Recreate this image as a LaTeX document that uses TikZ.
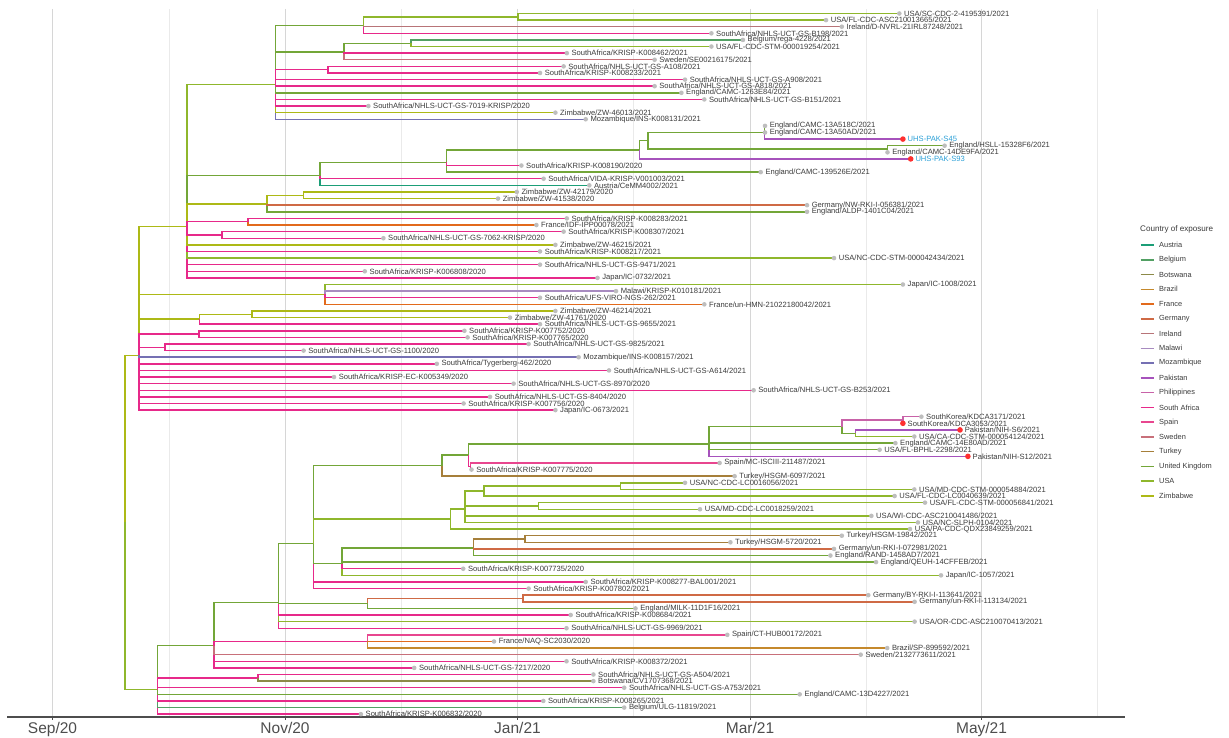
\documentclass[tikz,border=0pt]{standalone}
\usepackage{fontspec}
\setmainfont{Liberation Sans}
\definecolor{AustriaClr}{HTML}{1B9E77}
\definecolor{BelgiumClr}{HTML}{52A063}
\definecolor{BotswanaClr}{HTML}{8C8A48}
\definecolor{BrazilClr}{HTML}{C5892C}
\definecolor{FranceClr}{HTML}{E26A1C}
\definecolor{GermanyClr}{HTML}{CF6A45}
\definecolor{IrelandClr}{HTML}{B87478}
\definecolor{MalawiClr}{HTML}{A88BC0}
\definecolor{MozambiqueClr}{HTML}{7570B3}
\definecolor{PakistanClr}{HTML}{A652BC}
\definecolor{PhilippinesClr}{HTML}{C862A8}
\definecolor{SouthAfricaClr}{HTML}{E7298A}
\definecolor{SpainClr}{HTML}{E8468F}
\definecolor{SwedenClr}{HTML}{C8707A}
\definecolor{TurkeyClr}{HTML}{A67F3A}
\definecolor{UKClr}{HTML}{73A638}
\definecolor{USAClr}{HTML}{8FB72C}
\definecolor{ZimbabweClr}{HTML}{ADB916}
\definecolor{LabelClr}{HTML}{3A3A3A}
\definecolor{BlueLabelClr}{HTML}{2A9FD6}
\definecolor{DotClr}{HTML}{BEBEBE}
\definecolor{HitClr}{HTML}{FF3030}
\definecolor{GridClr}{HTML}{D6D6D6}
\definecolor{MinorClr}{HTML}{EAEAEA}
\definecolor{AxisClr}{HTML}{4D4D4D}

\begin{document}
\begin{tikzpicture}[x=1pt,y=-1pt,
  br/.style={line width=1.45pt},
  tiplab/.style={anchor=west,inner sep=0pt,xshift=4.6pt,text=LabelClr,font=\fontsize{7.6}{8}\selectfont},
  paklab/.style={tiplab,text=BlueLabelClr},
  axlab/.style={anchor=base,inner sep=0pt,text=AxisClr,font=\fontsize{15.5}{16}\selectfont},
  keylab/.style={anchor=west,inner sep=0pt,text=LabelClr,font=\fontsize{7.4}{8}\selectfont}]
\useasboundingbox (0,0) rectangle (1229,738);

% grid
\foreach \gx in {169,401,633.5,866,1097.5}
  \draw[MinorClr,line width=0.6pt] (\gx,9) -- (\gx,717);
\foreach \gx in {52.5,285,517.5,750,981.5}
  \draw[GridClr,line width=0.9pt] (\gx,9) -- (\gx,717);

% time axis
\draw[AxisClr,line width=1.1pt] (7,717) -- (1125,717);
\foreach \gx in {52.5,285,517.5,750,981.5}
  \draw[AxisClr,line width=0.9pt] (\gx,717) -- (\gx,720);
\node[axlab] (lsep) at (52.5,733) {Sep/20};
\node[axlab] (lnov) at (285,733) {Nov/20};
\node[axlab] (ljan) at (517.5,733) {Jan/21};
\node[axlab] (lmar) at (750,733) {Mar/21};
\node[axlab] (lmay) at (981.5,733) {May/21};

\begin{scope}[yshift=-6.89pt,y=-6.61pt]
% inner nodes
\coordinate (root) at (125,78.0);
\coordinate (B) at (139,52.71);
\coordinate (D) at (187,33.19);
\coordinate (T) at (275.5,11.72);
\coordinate (T1) at (363.6,2.833);
\coordinate (T1a) at (517.8,1.5);
\coordinate (T2) at (344,6.833);
\coordinate (T2a) at (411,5.5);
\coordinate (T3) at (328,9.5);
\coordinate (E1) at (320,25.51);
\coordinate (E2) at (446.6,23.54);
\coordinate (E3) at (639.3,21.625);
\coordinate (E4) at (648.2,20.25);
\coordinate (E5) at (764.3,19);
\coordinate (E6) at (887.5,21.5);
\coordinate (Z) at (266.8,29.83);
\coordinate (Z1) at (303.5,28.5);
\coordinate (F1) at (248,32.5);
\coordinate (F2) at (222,34.5);
\coordinate (J) at (325,43.5);
\coordinate (F) at (199.6,47.25);
\coordinate (Fa) at (252,46.5);
\coordinate (G) at (198.8,49.5);
\coordinate (H) at (164.8,51.5);
\coordinate (C) at (157.3,103.3);
\coordinate (C2) at (258,101.5);
\coordinate (K) at (214.2,96.62);
\coordinate (K2) at (367.6,96);
\coordinate (L) at (278.7,90.09);
\coordinate (L2) at (367.6,90.25);
\coordinate (L3) at (523,89.5);
\coordinate (M) at (313.4,81.22);
\coordinate (N1) at (441.9,69.41);
\coordinate (N2) at (468.4,67.81);
\coordinate (N2b) at (470.5,69.5);
\coordinate (P1) at (709,66.125);
\coordinate (P2) at (841.8,63.5);
\coordinate (P3) at (902.9,62.5);
\coordinate (P4) at (855.4,64.5);
\coordinate (Q1) at (450.6,77.47);
\coordinate (Q2) at (465.2,75.94);
\coordinate (Q3) at (484.2,73.25);
\coordinate (Q4) at (620.7,72.5);
\coordinate (Q5) at (538.3,75.5);
\coordinate (R1) at (341.9,84.21);
\coordinate (R2) at (473.5,81.83);
\coordinate (R3) at (524.9,80.5);

% tips
\coordinate (t1) at (899.3,1);
\coordinate (t2) at (826,2);
\coordinate (t3) at (841.8,3);
\coordinate (t4) at (711.4,4);
\coordinate (t5) at (742.9,5);
\coordinate (t6) at (711.4,6);
\coordinate (t7) at (566.8,7);
\coordinate (t8) at (654.6,8);
\coordinate (t9) at (563.6,9);
\coordinate (t10) at (540,10);
\coordinate (t11) at (685,11);
\coordinate (t12) at (654.6,12);
\coordinate (t13) at (681.4,13);
\coordinate (t14) at (704.3,14);
\coordinate (t15) at (368.4,15);
\coordinate (t16) at (555.4,16);
\coordinate (t17) at (585.7,17);
\coordinate (t18) at (765,18);
\coordinate (t19) at (765,19);
\coordinate (t20) at (902.9,20);
\coordinate (t21) at (944.6,21);
\coordinate (t22) at (887.5,22);
\coordinate (t23) at (910.7,23);
\coordinate (t24) at (521.4,24);
\coordinate (t25) at (760.7,25);
\coordinate (t26) at (543.6,26);
\coordinate (t27) at (589.3,27);
\coordinate (t28) at (516.8,28);
\coordinate (t29) at (498,29);
\coordinate (t30) at (807,30);
\coordinate (t31) at (807,31);
\coordinate (t32) at (566.8,32);
\coordinate (t33) at (536.4,33);
\coordinate (t34) at (563.6,34);
\coordinate (t35) at (383.4,35);
\coordinate (t36) at (555.4,36);
\coordinate (t37) at (540,37);
\coordinate (t38) at (834,38);
\coordinate (t39) at (540,39);
\coordinate (t40) at (364.8,40);
\coordinate (t41) at (597.5,41);
\coordinate (t42) at (902.9,42);
\coordinate (t43) at (616,43);
\coordinate (t44) at (540,44);
\coordinate (t45) at (704.3,45);
\coordinate (t46) at (555.4,46);
\coordinate (t47) at (510,47);
\coordinate (t48) at (540,48);
\coordinate (t49) at (464.4,49);
\coordinate (t50) at (467.6,50);
\coordinate (t51) at (528.6,51);
\coordinate (t52) at (303.6,52);
\coordinate (t53) at (578.6,53);
\coordinate (t54) at (436.8,54);
\coordinate (t55) at (609,55);
\coordinate (t56) at (334,56);
\coordinate (t57) at (513.6,57);
\coordinate (t58) at (753.6,58);
\coordinate (t59) at (490,59);
\coordinate (t60) at (463.6,60);
\coordinate (t61) at (555.4,61);
\coordinate (t62) at (921.4,62);
\coordinate (t63) at (902.9,63);
\coordinate (t64) at (960,64);
\coordinate (t65) at (914.3,65);
\coordinate (t66) at (895.4,66);
\coordinate (t67) at (879.6,67);
\coordinate (t68) at (967.9,68);
\coordinate (t69) at (719.6,69);
\coordinate (t70) at (471.5,70);
\coordinate (t71) at (734.6,71);
\coordinate (t72) at (685,72);
\coordinate (t73) at (914.3,73);
\coordinate (t74) at (894.6,74);
\coordinate (t75) at (925,75);
\coordinate (t76) at (700,76);
\coordinate (t77) at (871.4,77);
\coordinate (t78) at (917.9,78);
\coordinate (t79) at (910,79);
\coordinate (t80) at (841.8,80);
\coordinate (t81) at (730.4,81);
\coordinate (t82) at (834,82);
\coordinate (t83) at (830.4,83);
\coordinate (t84) at (876,84);
\coordinate (t85) at (463.2,85);
\coordinate (t86) at (941,86);
\coordinate (t87) at (585.7,87);
\coordinate (t88) at (528.6,88);
\coordinate (t89) at (868.3,89);
\coordinate (t90) at (914.6,90);
\coordinate (t91) at (635.5,91);
\coordinate (t92) at (570.7,92);
\coordinate (t93) at (914.6,93);
\coordinate (t94) at (566.5,94);
\coordinate (t95) at (727.3,95);
\coordinate (t96) at (494,96);
\coordinate (t97) at (887.2,97);
\coordinate (t98) at (860.7,98);
\coordinate (t99) at (566.5,99);
\coordinate (t100) at (414.2,100);
\coordinate (t101) at (593.4,101);
\coordinate (t102) at (593.4,102);
\coordinate (t103) at (624.2,103);
\coordinate (t104) at (799.7,104);
\coordinate (t105) at (543.3,105);
\coordinate (t106) at (624.2,106);
\coordinate (t107) at (360.9,107);

% branches, upper clade
\draw[br,ZimbabweClr] (root) |- (B);
\draw[br,USAClr] (root) |- (C);
\draw[br,ZimbabweClr] (B) |- (D) (B) |- (J);
\draw[br,SouthAfricaClr] (B) |- (t61) (B) |- (t60) (B) |- (t59);
\draw[br,ZimbabweClr] (B) |- (F);
\draw[br,SouthAfricaClr] (B) |- (t58) (B) |- (t57) (B) |- (t56) (B) |- (G) (B) |- (t55) (B) |- (t54) (B) |- (H);
\draw[br,MozambiqueClr] (B) |- (t53);
\draw[br,USAClr] (D) |- (T);
\draw[br,SouthAfricaClr] (D) |- (t41);
\draw[br,UKClr] (D) |- (E1);
\draw[br,SouthAfricaClr] (D) |- (t40) (D) |- (t39);
\draw[br,USAClr] (D) |- (t38);
\draw[br,SouthAfricaClr] (D) |- (t37);
\draw[br,ZimbabweClr] (D) |- (Z) (D) |- (t36);
\draw[br,SouthAfricaClr] (D) |- (F2) (D) |- (F1);
\draw[br,UKClr] (T) |- (T1);
\draw[br,MozambiqueClr] (T) |- (t17);
\draw[br,UKClr] (T) |- (T2);
\draw[br,ZimbabweClr] (T) |- (t16);
\draw[br,SouthAfricaClr] (T) |- (t15) (T) |- (t14) (T) |- (T3);
\draw[br,UKClr] (T) |- (t13);
\draw[br,SouthAfricaClr] (T) |- (t11) (T) |- (t12);
\draw[br,USAClr] (T1) |- (T1a);
\draw[br,SouthAfricaClr] (T1) |- (t4);
\draw[br,IrelandClr] (T1) |- (t3);
\draw[br,USAClr] (T1a) |- (t1) (T1a) |- (t2);
\draw[br,UKClr] (T2) |- (T2a);
\draw[br,SwedenClr] (T2) |- (t8);
\draw[br,SouthAfricaClr] (T2) |- (t7);
\draw[br,BelgiumClr] (T2a) |- (t5);
\draw[br,USAClr] (T2a) |- (t6);
\draw[br,SouthAfricaClr] (T3) |- (t9) (T3) |- (t10);
\draw[br,UKClr] (E1) |- (E2);
\draw[br,AustriaClr] (E1) |- (t27);
\draw[br,SouthAfricaClr] (E1) |- (t26);
\draw[br,UKClr] (E2) |- (E3) (E2) |- (t25);
\draw[br,SouthAfricaClr] (E2) |- (t24);
\draw[br,PakistanClr] (E3) |- (t23);
\draw[br,UKClr] (E3) |- (E4);
\draw[br,UKClr] (E4) |- (E5) (E4) |- (E6);
\draw[br,UKClr] (E5) |- (t18);
\draw[br,PakistanClr] (E5) |- (t20);
\draw[br,UKClr] (E5) |- (t19);
\draw[br,UKClr] (E6) |- (t21) (E6) |- (t22);
\draw[br,ZimbabweClr] (Z) |- (Z1);
\draw[br,UKClr] (Z) |- (t31);
\draw[br,GermanyClr] (Z) |- (t30);
\draw[br,ZimbabweClr] (Z1) |- (t28) (Z1) |- (t29);
\draw[br,SouthAfricaClr] (F1) |- (t32);
\draw[br,FranceClr] (F1) |- (t33);
\draw[br,SouthAfricaClr] (F2) |- (t34) (F2) |- (t35);
\draw[br,USAClr] (J) |- (t42);
\draw[br,FranceClr] (J) |- (t45);
\draw[br,MalawiClr] (J) |- (t43);
\draw[br,SouthAfricaClr] (J) |- (t44);
\draw[br,ZimbabweClr] (F) |- (Fa);
\draw[br,SouthAfricaClr] (F) |- (t48);
\draw[br,ZimbabweClr] (Fa) |- (t46) (Fa) |- (t47);
\draw[br,SouthAfricaClr] (G) |- (t49) (G) |- (t50);
\draw[br,SouthAfricaClr] (H) |- (t51) (H) |- (t52);

% branches, lower clade
\draw[br,UKClr] (C) |- (K);
\draw[br,SouthAfricaClr] (C) |- (t107);
\draw[br,BelgiumClr] (C) |- (t106);
\draw[br,SouthAfricaClr] (C) |- (C2) (C) |- (t105);
\draw[br,UKClr] (C) |- (t104);
\draw[br,SouthAfricaClr] (C) |- (t103);
\draw[br,SouthAfricaClr] (C2) |- (t101);
\draw[br,BotswanaClr] (C2) |- (t102);
\draw[br,UKClr] (K) |- (L);
\draw[br,SouthAfricaClr] (K) |- (t100) (K) |- (t99);
\draw[br,SwedenClr] (K) |- (t98);
\draw[br,SouthAfricaClr] (K) |- (K2);
\draw[br,SpainClr] (K2) |- (t95);
\draw[br,BrazilClr] (K2) |- (t97);
\draw[br,FranceClr] (K2) |- (t96);
\draw[br,UKClr] (L) |- (M);
\draw[br,SouthAfricaClr] (L) |- (t94);
\draw[br,USAClr] (L) |- (t93);
\draw[br,SouthAfricaClr] (L) |- (t92);
\draw[br,UKClr] (L) |- (L2);
\draw[br,UKClr] (L2) |- (t91);
\draw[br,GermanyClr] (L2) |- (L3);
\draw[br,GermanyClr] (L3) |- (t89) (L3) |- (t90);
\draw[br,UKClr] (M) |- (N1);
\draw[br,SouthAfricaClr] (M) |- (t88) (M) |- (t87);
\draw[br,USAClr] (M) |- (Q1);
\draw[br,UKClr] (M) |- (R1);
\draw[br,TurkeyClr] (N1) |- (t71);
\draw[br,UKClr] (N1) |- (N2);
\draw[br,SouthAfricaClr] (N2) |- (N2b);
\draw[br,UKClr] (N2) |- (P1);
\draw[br,SpainClr] (N2b) |- (t69);
\draw[br,SouthAfricaClr] (N2b) |- (t70);
\draw[br,UKClr] (P1) |- (P2);
\draw[br,PakistanClr] (P1) |- (t68);
\draw[br,UKClr] (P1) |- (t67) (P1) |- (t66);
\draw[br,PhilippinesClr] (P2) |- (P3);
\draw[br,UKClr] (P2) |- (P4);
\draw[br,PhilippinesClr] (P3) |- (t62) (P3) |- (t63);
\draw[br,PakistanClr] (P4) |- (t64);
\draw[br,USAClr] (P4) |- (t65);
\draw[br,USAClr] (Q1) |- (Q2) (Q1) |- (t79);
\draw[br,USAClr] (Q2) |- (Q3) (Q2) |- (Q5) (Q2) |- (t77) (Q2) |- (t78);
\draw[br,USAClr] (Q3) |- (Q4) (Q3) |- (t74);
\draw[br,USAClr] (Q4) |- (t72) (Q4) |- (t73);
\draw[br,USAClr] (Q5) |- (t75) (Q5) |- (t76);
\draw[br,UKClr] (R1) |- (R2);
\draw[br,USAClr] (R1) |- (t86);
\draw[br,SouthAfricaClr] (R1) |- (t85);
\draw[br,UKClr] (R1) |- (t84);
\draw[br,TurkeyClr] (R2) |- (R3);
\draw[br,UKClr] (R2) |- (t83);
\draw[br,GermanyClr] (R2) |- (t82);
\draw[br,TurkeyClr] (R3) |- (t80) (R3) |- (t81);

% tip points
\foreach \i in {1,...,107} \fill[DotClr] (t\i) circle (2.3pt);
\foreach \i in {20,23,63,64,68} \fill[HitClr] (t\i) circle (2.8pt);

% tip labels
\node[tiplab] (l1) at (t1) {USA/SC-CDC-2-4195391/2021};
\node[tiplab] (l2) at (t2) {USA/FL-CDC-ASC210013665/2021};
\node[tiplab] (l3) at (t3) {Ireland/D-NVRL-21IRL87248/2021};
\node[tiplab] (l4) at (t4) {SouthAfrica/NHLS-UCT-GS-B198/2021};
\node[tiplab] (l5) at (t5) {Belgium/rega-4228/2021};
\node[tiplab] (l6) at (t6) {USA/FL-CDC-STM-000019254/2021};
\node[tiplab] (l7) at (t7) {SouthAfrica/KRISP-K008462/2021};
\node[tiplab] (l8) at (t8) {Sweden/SE00216175/2021};
\node[tiplab] (l9) at (t9) {SouthAfrica/NHLS-UCT-GS-A108/2021};
\node[tiplab] (l10) at (t10) {SouthAfrica/KRISP-K008233/2021};
\node[tiplab] (l11) at (t11) {SouthAfrica/NHLS-UCT-GS-A908/2021};
\node[tiplab] (l12) at (t12) {SouthAfrica/NHLS-UCT-GS-A818/2021};
\node[tiplab] (l13) at (t13) {England/CAMC-1263E84/2021};
\node[tiplab] (l14) at (t14) {SouthAfrica/NHLS-UCT-GS-B151/2021};
\node[tiplab] (l15) at (t15) {SouthAfrica/NHLS-UCT-GS-7019-KRISP/2020};
\node[tiplab] (l16) at (t16) {Zimbabwe/ZW-46013/2021};
\node[tiplab] (l17) at (t17) {Mozambique/INS-K008131/2021};
\node[tiplab] (l18) at (t18) {England/CAMC-13A518C/2021};
\node[tiplab] (l19) at (t19) {England/CAMC-13A50AD/2021};
\node[paklab] (l20) at (t20) {UHS-PAK-S45};
\node[tiplab] (l21) at (t21) {England/HSLL-15328F6/2021};
\node[tiplab] (l22) at (t22) {England/CAMC-14DE9FA/2021};
\node[paklab] (l23) at (t23) {UHS-PAK-S93};
\node[tiplab] (l24) at (t24) {SouthAfrica/KRISP-K008190/2020};
\node[tiplab] (l25) at (t25) {England/CAMC-139526E/2021};
\node[tiplab] (l26) at (t26) {SouthAfrica/VIDA-KRISP-V001003/2021};
\node[tiplab] (l27) at (t27) {Austria/CeMM4002/2021};
\node[tiplab] (l28) at (t28) {Zimbabwe/ZW-42179/2020};
\node[tiplab] (l29) at (t29) {Zimbabwe/ZW-41538/2020};
\node[tiplab] (l30) at (t30) {Germany/NW-RKI-I-056381/2021};
\node[tiplab] (l31) at (t31) {England/ALDP-1401C04/2021};
\node[tiplab] (l32) at (t32) {SouthAfrica/KRISP-K008283/2021};
\node[tiplab] (l33) at (t33) {France/IDF-IPP00078/2021};
\node[tiplab] (l34) at (t34) {SouthAfrica/KRISP-K008307/2021};
\node[tiplab] (l35) at (t35) {SouthAfrica/NHLS-UCT-GS-7062-KRISP/2020};
\node[tiplab] (l36) at (t36) {Zimbabwe/ZW-46215/2021};
\node[tiplab] (l37) at (t37) {SouthAfrica/KRISP-K008217/2021};
\node[tiplab] (l38) at (t38) {USA/NC-CDC-STM-000042434/2021};
\node[tiplab] (l39) at (t39) {SouthAfrica/NHLS-UCT-GS-9471/2021};
\node[tiplab] (l40) at (t40) {SouthAfrica/KRISP-K006808/2020};
\node[tiplab] (l41) at (t41) {Japan/IC-0732/2021};
\node[tiplab] (l42) at (t42) {Japan/IC-1008/2021};
\node[tiplab] (l43) at (t43) {Malawi/KRISP-K010181/2021};
\node[tiplab] (l44) at (t44) {SouthAfrica/UFS-VIRO-NGS-262/2021};
\node[tiplab] (l45) at (t45) {France/un-HMN-21022180042/2021};
\node[tiplab] (l46) at (t46) {Zimbabwe/ZW-46214/2021};
\node[tiplab] (l47) at (t47) {Zimbabwe/ZW-41761/2020};
\node[tiplab] (l48) at (t48) {SouthAfrica/NHLS-UCT-GS-9655/2021};
\node[tiplab] (l49) at (t49) {SouthAfrica/KRISP-K007752/2020};
\node[tiplab] (l50) at (t50) {SouthAfrica/KRISP-K007765/2020};
\node[tiplab] (l51) at (t51) {SouthAfrica/NHLS-UCT-GS-9825/2021};
\node[tiplab] (l52) at (t52) {SouthAfrica/NHLS-UCT-GS-1100/2020};
\node[tiplab] (l53) at (t53) {Mozambique/INS-K008157/2021};
\node[tiplab] (l54) at (t54) {SouthAfrica/Tygerberg-462/2020};
\node[tiplab] (l55) at (t55) {SouthAfrica/NHLS-UCT-GS-A614/2021};
\node[tiplab] (l56) at (t56) {SouthAfrica/KRISP-EC-K005349/2020};
\node[tiplab] (l57) at (t57) {SouthAfrica/NHLS-UCT-GS-8970/2020};
\node[tiplab] (l58) at (t58) {SouthAfrica/NHLS-UCT-GS-B253/2021};
\node[tiplab] (l59) at (t59) {SouthAfrica/NHLS-UCT-GS-8404/2020};
\node[tiplab] (l60) at (t60) {SouthAfrica/KRISP-K007756/2020};
\node[tiplab] (l61) at (t61) {Japan/IC-0673/2021};
\node[tiplab] (l62) at (t62) {SouthKorea/KDCA3171/2021};
\node[tiplab] (l63) at (t63) {SouthKorea/KDCA3053/2021};
\node[tiplab] (l64) at (t64) {Pakistan/NIH-S6/2021};
\node[tiplab] (l65) at (t65) {USA/CA-CDC-STM-000054124/2021};
\node[tiplab] (l66) at (t66) {England/CAMC-14E80AD/2021};
\node[tiplab] (l67) at (t67) {USA/FL-BPHL-2298/2021};
\node[tiplab] (l68) at (t68) {Pakistan/NIH-S12/2021};
\node[tiplab] (l69) at (t69) {Spain/MC-ISCIII-211487/2021};
\node[tiplab] (l70) at (t70) {SouthAfrica/KRISP-K007775/2020};
\node[tiplab] (l71) at (t71) {Turkey/HSGM-6097/2021};
\node[tiplab] (l72) at (t72) {USA/NC-CDC-LC0016056/2021};
\node[tiplab] (l73) at (t73) {USA/MD-CDC-STM-000054884/2021};
\node[tiplab] (l74) at (t74) {USA/FL-CDC-LC0040639/2021};
\node[tiplab] (l75) at (t75) {USA/FL-CDC-STM-000056841/2021};
\node[tiplab] (l76) at (t76) {USA/MD-CDC-LC0018259/2021};
\node[tiplab] (l77) at (t77) {USA/WI-CDC-ASC210041486/2021};
\node[tiplab] (l78) at (t78) {USA/NC-SLPH-0104/2021};
\node[tiplab] (l79) at (t79) {USA/PA-CDC-QDX23849259/2021};
\node[tiplab] (l80) at (t80) {Turkey/HSGM-19842/2021};
\node[tiplab] (l81) at (t81) {Turkey/HSGM-5720/2021};
\node[tiplab] (l82) at (t82) {Germany/un-RKI-I-072981/2021};
\node[tiplab] (l83) at (t83) {England/RAND-1458AD7/2021};
\node[tiplab] (l84) at (t84) {England/QEUH-14CFFEB/2021};
\node[tiplab] (l85) at (t85) {SouthAfrica/KRISP-K007735/2020};
\node[tiplab] (l86) at (t86) {Japan/IC-1057/2021};
\node[tiplab] (l87) at (t87) {SouthAfrica/KRISP-K008277-BAL001/2021};
\node[tiplab] (l88) at (t88) {SouthAfrica/KRISP-K007802/2021};
\node[tiplab] (l89) at (t89) {Germany/BY-RKI-I-113641/2021};
\node[tiplab] (l90) at (t90) {Germany/un-RKI-I-113134/2021};
\node[tiplab] (l91) at (t91) {England/MILK-11D1F16/2021};
\node[tiplab] (l92) at (t92) {SouthAfrica/KRISP-K008684/2021};
\node[tiplab] (l93) at (t93) {USA/OR-CDC-ASC210070413/2021};
\node[tiplab] (l94) at (t94) {SouthAfrica/NHLS-UCT-GS-9969/2021};
\node[tiplab] (l95) at (t95) {Spain/CT-HUB00172/2021};
\node[tiplab] (l96) at (t96) {France/NAQ-SC2030/2020};
\node[tiplab] (l97) at (t97) {Brazil/SP-899592/2021};
\node[tiplab] (l98) at (t98) {Sweden/2132773611/2021};
\node[tiplab] (l99) at (t99) {SouthAfrica/KRISP-K008372/2021};
\node[tiplab] (l100) at (t100) {SouthAfrica/NHLS-UCT-GS-7217/2020};
\node[tiplab] (l101) at (t101) {SouthAfrica/NHLS-UCT-GS-A504/2021};
\node[tiplab] (l102) at (t102) {Botswana/CV1707368/2021};
\node[tiplab] (l103) at (t103) {SouthAfrica/NHLS-UCT-GS-A753/2021};
\node[tiplab] (l104) at (t104) {England/CAMC-13D4227/2021};
\node[tiplab] (l105) at (t105) {SouthAfrica/KRISP-K008265/2021};
\node[tiplab] (l106) at (t106) {Belgium/ULG-11819/2021};
\node[tiplab] (l107) at (t107) {SouthAfrica/KRISP-K006832/2020};
\end{scope}

% legend
\node[anchor=base west,inner sep=0pt,text=LabelClr,font=\fontsize{8.1}{9}\selectfont] (legtitle) at (1140,232) {Country of exposure};
\foreach \k/\nm/\clr in {0/Austria/AustriaClr,1/Belgium/BelgiumClr,2/Botswana/BotswanaClr,3/Brazil/BrazilClr,4/France/FranceClr,5/Germany/GermanyClr,6/Ireland/IrelandClr,7/Malawi/MalawiClr,8/Mozambique/MozambiqueClr,9/Pakistan/PakistanClr,10/Philippines/PhilippinesClr,11/South Africa/SouthAfricaClr,12/Spain/SpainClr,13/Sweden/SwedenClr,14/Turkey/TurkeyClr,15/United Kingdom/UKClr,16/USA/USAClr,17/Zimbabwe/ZimbabweClr}{
  \draw[\clr,line width=1.5pt] (1140.5,{245+14.76*\k}) -- ++(13,0);
  \node[keylab] (key\k) at (1159,{245+14.76*\k}) {\nm};
}
\end{tikzpicture}
\end{document}
